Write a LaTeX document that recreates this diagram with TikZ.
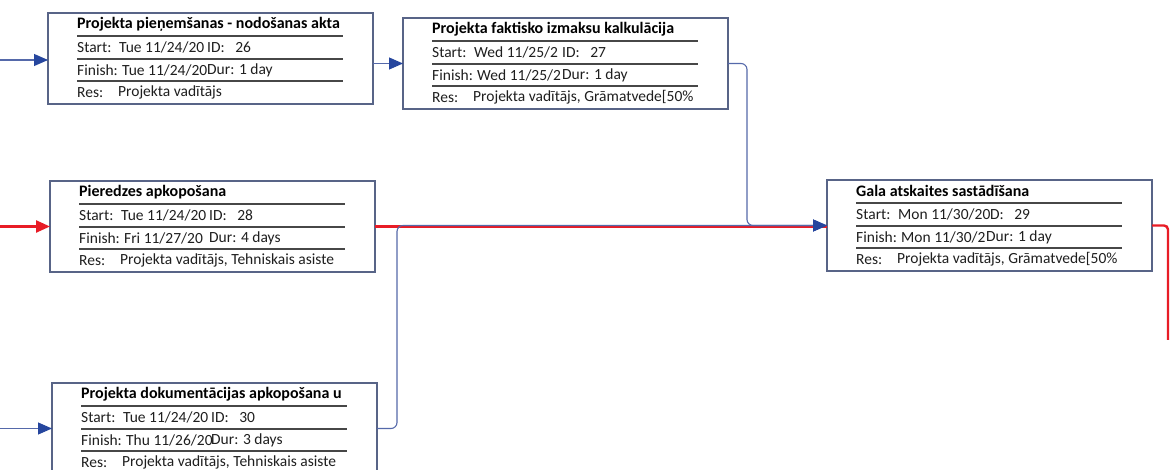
\documentclass[tikz,border=0pt]{standalone}
\usepackage{fontspec}
\setmainfont{Carlito}
\usepackage{tikz}
\usetikzlibrary{calc,positioning,arrows.meta}
\definecolor{pdframe}{RGB}{88,100,135}
\definecolor{pdlink}{RGB}{85,105,170}
\definecolor{pdarrow}{RGB}{38,70,158}
\definecolor{pdcrit}{RGB}{232,28,38}
\tikzset{
 pd box/.style={draw=pdframe,line width=1.2pt,fill=white,anchor=north west,
                minimum width=325pt,minimum height=91pt,inner sep=0pt,outer sep=0pt},
 pd rule/.style={line width=1.1pt,draw=black!72},
 pd title/.style={anchor=west,inner sep=0pt,font=\bfseries\fontsize{16}{18}\selectfont},
 pd text/.style={anchor=west,inner sep=0pt,text=black!88,font=\fontsize{15.5}{18}\selectfont},
 pd link/.style={line width=1.1pt,draw=pdlink,rounded corners=6pt,
                 -{Triangle[length=14pt,width=12pt,color=pdarrow]}},
 pd crit/.style={line width=2.4pt,draw=pdcrit}
}
\begin{document}
\begin{tikzpicture}[x=1pt,y=-1pt]
 \useasboundingbox (0,0) rectangle (1171,470);
 \clip (0,0) rectangle (1171,470);
 \fill[white] (0,0) rectangle (1171,470);
 % task boxes
 \foreach \n/\x/\y/\ttl/\sd/\tid/\fd/\dur/\res in {
   a/48/13/{Projekta pieņemšanas - nodošanas akta}/{Tue 11/24/20}/{ID:\ \ \ 26}/{Tue 11/24/20}/{Dur: 1 day}/{Projekta vadītājs},
   b/403/18/{Projekta faktisko izmaksu kalkulācija}/{Wed 11/25/2}/{ID:\ \ \ 27}/{Wed 11/25/2}/{Dur: 1 day}/{Projekta vadītājs, Grāmatvede[50\%},
   c/50/181/{Pieredzes apkopošana}/{Tue 11/24/20}/{ID:\ \ \ 28}/{Fri 11/27/20}/{Dur: 4 days}/{Projekta vadītājs, Tehniskais asiste},
   d/52/383/{Projekta dokumentācijas apkopošana u}/{Tue 11/24/20}/{ID:\ \ \ 30}/{Thu 11/26/20}/{Dur: 3 days}/{Projekta vadītājs, Tehniskais asiste},
   e/827/180/{Gala atskaites sastādīšana}/{Mon 11/30/20}/{\phantom{I}D:\ \ \ 29}/{Mon 11/30/2}/{Dur: 1 day}/{Projekta vadītājs, Grāmatvede[50\%}}{
   \node[pd box] (box \n) at (\x,\y) {};
   \foreach \r in {23,46,68}{
     \draw[pd rule] ($(box \n.north west)+(29,\r)$) -- ++(266,0);
   }
   \node[pd title] (\n ttl) at ($(box \n.north west)+(29,11)$) {\ttl};
   \node[pd text] (\n stl) at ($(box \n.north west)+(29,34.5)$) {Start:};
   \node[pd text] (\n st) at ($(box \n.north west)+(71,34.5)$) {\sd};
   \node[pd text] (\n id) at ($(box \n.north west)+(159,34.5)$) {\tid};
   \node[pd text] (\n fil) at ($(box \n.north west)+(29,57)$) {Finish:};
   \node[pd text] (\n fi) at ($(box \n.north west)+(74,57)$) {\fd};
   \node[pd text] (\n du) at ($(box \n.north west)+(159,57)$) {\dur};
   \node[pd text] (\n rsl) at ($(box \n.north west)+(29,79.5)$) {Res:};
   \node[pd text] (\n rs) at ($(box \n.north west)+(70,79.5)$) {\res};
 }
 % free ends
 \coordinate (src a) at (0,60);
 \coordinate (src c) at (0,226.5);
 \coordinate (src d) at (0,428.5);
 \coordinate (dst e) at (1168,340);
 % links
 \draw[pd crit] (box c.east) -- (box c.east -| box e.west);
 \draw[pd crit,rounded corners=4pt] (box e.east) -| (dst e);
 \draw[pd crit,-{Triangle[length=14pt,width=12pt]}] (src c) -- (box c.west);
 \draw[pd link] (src a) -- (src a -| box a.west);
 \draw[pd link] (src d) -- (box d.west);
 \draw[pd link] (box a.east |- box b.west) -- (box b.west);
 \draw[pd link] (box b.east) -- ++(19,0) |- (box e.west);
 \draw[pd link] (box d.east) -- ++(20,0) |- (box e.west);
\end{tikzpicture}
\end{document}
